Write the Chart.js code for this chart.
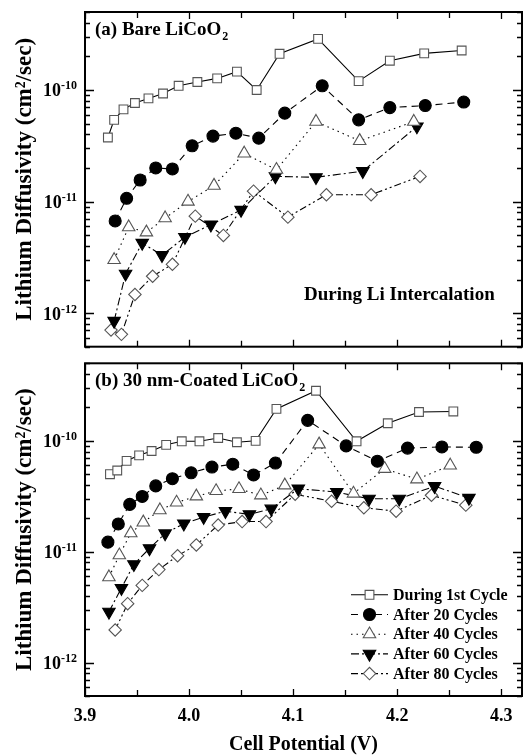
<!DOCTYPE html>
<html>
<head>
<meta charset="utf-8">
<script src="https://cdn.jsdelivr.net/npm/chart.js"></script>
<style>
  html, body { margin: 0; padding: 0; background: #fff; }
  #wrap { position: relative; width: 532px; height: 755px; }
  canvas { position: absolute; left: 0; }
  #bare { top: 0; }
  #coated { top: 355px; }
</style>
</head>
<body>
<div id="wrap">
  <canvas id="bare" width="532" height="355"></canvas>
  <canvas id="coated" width="532" height="400"></canvas>
</div>
<script>
// legend names
const seriesNames = ['During 1st Cycle', 'After 20 Cycles', 'After 40 Cycles', 'After 60 Cycles', 'After 80 Cycles'];
// decades that get a label on the y axis
const yDecades = [-10, -11, -12];

// (a) bare LiCoO2 - potential (V) and diffusivity (cm2/sec)
const bare1V  = [3.922, 3.928, 3.937, 3.948, 3.961, 3.975, 3.990, 4.008, 4.027, 4.046, 4.065, 4.087, 4.124, 4.163, 4.193, 4.226, 4.262];
const bare1D  = [3.75e-11, 5.4e-11, 6.7e-11, 7.65e-11, 8.4e-11, 9.3e-11, 1.09e-10, 1.18e-10, 1.27e-10, 1.46e-10, 1.0e-10, 2.11e-10, 2.87e-10, 1.2e-10, 1.83e-10, 2.13e-10, 2.26e-10];
const bare20V = [3.929, 3.940, 3.953, 3.968, 3.984, 4.003, 4.023, 4.045, 4.067, 4.092, 4.128, 4.163, 4.193, 4.227, 4.264];
const bare20D = [6.7e-12, 1.07e-11, 1.56e-11, 2.0e-11, 1.96e-11, 3.16e-11, 3.86e-11, 4.1e-11, 3.7e-11, 6.2e-11, 1.09e-10, 5.4e-11, 6.95e-11, 7.25e-11, 7.8e-11];
const bare40V = [3.928, 3.942, 3.959, 3.977, 3.999, 4.024, 4.053, 4.084, 4.122, 4.164, 4.216];
const bare40D = [3.0e-12, 5.9e-12, 5.3e-12, 7.1e-12, 1.0e-11, 1.39e-11, 2.7e-11, 1.93e-11, 5.2e-11, 3.5e-11, 5.2e-11];
const bare60V = [3.928, 3.939, 3.955, 3.974, 3.996, 4.021, 4.050, 4.083, 4.122, 4.167, 4.219];
const bare60D = [8.5e-13, 2.25e-12, 4.25e-12, 3.3e-12, 4.8e-12, 6.2e-12, 8.4e-12, 1.68e-11, 1.65e-11, 1.87e-11, 4.7e-11];
const bare80V = [3.925, 3.935, 3.948, 3.965, 3.984, 4.006, 4.033, 4.062, 4.095, 4.132, 4.175, 4.222];
const bare80D = [7.05e-13, 6.45e-13, 1.47e-12, 2.14e-12, 2.74e-12, 7.4e-12, 4.97e-12, 1.24e-11, 7.25e-12, 1.15e-11, 1.15e-11, 1.68e-11];

// (b) 30 nm-coated LiCoO2
const coat1V  = [3.924, 3.931, 3.940, 3.952, 3.964, 3.978, 3.993, 4.010, 4.028, 4.046, 4.064, 4.084, 4.122, 4.161, 4.191, 4.221, 4.254];
const coat1D  = [5.0e-11, 5.4e-11, 6.6e-11, 7.4e-11, 8.1e-11, 9.2e-11, 9.9e-11, 9.9e-11, 1.06e-10, 9.7e-11, 1.0e-10, 1.94e-10, 2.83e-10, 9.9e-11, 1.44e-10, 1.82e-10, 1.84e-10];
const coat20V = [3.922, 3.932, 3.943, 3.955, 3.968, 3.984, 4.002, 4.022, 4.042, 4.062, 4.083, 4.114, 4.151, 4.181, 4.210, 4.243, 4.276];
const coat20D = [1.22e-11, 1.78e-11, 2.67e-11, 3.15e-11, 3.92e-11, 4.55e-11, 5.15e-11, 5.8e-11, 6.15e-11, 4.92e-11, 6.3e-11, 1.53e-10, 9.0e-11, 6.55e-11, 8.6e-11, 8.8e-11, 8.75e-11];
const coat40V = [3.923, 3.933, 3.944, 3.956, 3.972, 3.988, 4.007, 4.026, 4.048, 4.069, 4.092, 4.125, 4.158, 4.188, 4.219, 4.251];
const coat40D = [5.9e-12, 9.3e-12, 1.47e-11, 1.84e-11, 2.37e-11, 2.78e-11, 3.16e-11, 3.53e-11, 3.68e-11, 3.23e-11, 3.97e-11, 9.3e-11, 3.35e-11, 5.6e-11, 4.5e-11, 6.0e-11];
const coat60V = [3.923, 3.935, 3.947, 3.962, 3.977, 3.995, 4.014, 4.035, 4.058, 4.079, 4.105, 4.142, 4.173, 4.202, 4.236, 4.269];
const coat60D = [2.87e-12, 4.7e-12, 7.7e-12, 1.07e-11, 1.46e-11, 1.79e-11, 2.05e-11, 2.32e-11, 2.17e-11, 2.44e-11, 3.7e-11, 3.45e-11, 3.0e-11, 3.0e-11, 3.9e-11, 3.05e-11];
const coat80V = [3.929, 3.941, 3.955, 3.971, 3.989, 4.007, 4.028, 4.051, 4.074, 4.102, 4.137, 4.168, 4.199, 4.233, 4.266];
const coat80D = [1.97e-12, 3.4e-12, 4.97e-12, 6.9e-12, 9.2e-12, 1.15e-11, 1.74e-11, 1.87e-11, 1.87e-11, 3.3e-11, 2.85e-11, 2.49e-11, 2.32e-11, 3.23e-11, 2.63e-11];

const SERIF = '"Liberation Serif", "Times New Roman", serif';

// line / marker look for each series
const looks = [
  { dash: [], style: 'rect', radius: 6.2, fill: '#fff', edge: '#555' },
  { dash: [7, 5], style: 'circle', radius: 6, fill: '#000', edge: '#000' },
  { dash: [1.5, 4], style: 'triangle', radius: 7.2, fill: '#fff', edge: '#555', rot: 0 },
  { dash: [8, 3, 2, 3], style: 'triangle', radius: 7.2, fill: '#000', edge: '#000', rot: 180 },
  { dash: [7, 3, 2, 3, 2, 3], style: 'rectRot', radius: 6.2, fill: '#fff', edge: '#555' }
];

function buildSets(vs, ds) {
  return vs.map((v, i) => ({
    label: seriesNames[i],
    data: v.map((x, j) => ({ x: x, y: ds[i][j] })),
    borderColor: '#000',
    borderWidth: 1.1,
    borderDash: looks[i].dash,
    pointStyle: looks[i].style,
    pointRotation: looks[i].rot || 0,
    pointRadius: looks[i].radius,
    pointBackgroundColor: looks[i].fill,
    pointBorderColor: looks[i].edge,
    pointBorderWidth: 1.1,
    fill: false,
    tension: 0
  }));
}

// frame, inward ticks, y labels, panel text and legend
const panelPlugin = {
  id: 'panel',
  afterDraw(chart, args, o) {
    const ctx = chart.ctx;
    const a = chart.chartArea;
    const xs = chart.scales.x, ys = chart.scales.y;
    ctx.save();
    ctx.strokeStyle = '#000';
    ctx.lineWidth = 1.3;
    ctx.setLineDash([]);
    ctx.beginPath();
    for (let d = -13; d <= -10; d++) {
      for (let m = 1; m <= 9; m++) {
        const v = m * Math.pow(10, d);
        if (v < ys.min * 0.999 || v > ys.max * 1.001) continue;
        const py = Math.round(ys.getPixelForValue(v)) + 0.5;
        const len = m === 1 ? 9 : 5;
        ctx.moveTo(a.left, py); ctx.lineTo(a.left + len, py);
        ctx.moveTo(a.right, py); ctx.lineTo(a.right - len, py);
      }
    }
    for (let k = 0; k <= 8; k++) {
      const v = 3.9 + k * 0.05;
      const px = Math.round(xs.getPixelForValue(v)) + 0.5;
      const len = k % 2 === 0 ? 7 : 6;
      ctx.moveTo(px, a.bottom); ctx.lineTo(px, a.bottom - len);
      ctx.moveTo(px, a.top); ctx.lineTo(px, a.top + len);
    }
    ctx.stroke();
    ctx.lineWidth = 2;
    ctx.strokeRect(a.left, a.top, a.right - a.left, a.bottom - a.top);

    // y labels 10^n with a raised exponent
    ctx.fillStyle = '#000';
    ctx.textBaseline = 'alphabetic';
    ctx.textAlign = 'left';
    yDecades.forEach(d => {
      const py = ys.getPixelForValue(Math.pow(10, d));
      const exp = String(d);
      ctx.font = 'bold 12px ' + SERIF;
      const ew = ctx.measureText(exp).width;
      ctx.font = 'bold 18px ' + SERIF;
      const bw = ctx.measureText('10').width;
      const x0 = a.left - 8 - ew - bw;
      ctx.fillText('10', x0, py + 6.5);
      ctx.font = 'bold 12px ' + SERIF;
      ctx.fillText(exp, x0 + bw, py - 0.5);
    });

    // panel title with subscript
    ctx.font = 'bold 19px ' + SERIF;
    const tx = a.left + 10, ty = a.top + 23;
    ctx.fillText(o.label, tx, ty);
    const w = ctx.measureText(o.label).width;
    ctx.font = 'bold 12px ' + SERIF;
    ctx.fillText('2', tx + w + 1, ty + 5);

    if (o.note) {
      ctx.font = 'bold 19px ' + SERIF;
      ctx.fillText(o.note, a.left + 219, a.top + 288);
    }

    if (o.legend) {
      const lx0 = a.right - 171, lx1 = a.right - 134, mx = (lx0 + lx1) / 2;
      chart.data.datasets.forEach((ds, i) => {
        const y = a.top + 231.5 + i * 19.7;
        ctx.lineWidth = 1.1;
        ctx.strokeStyle = '#000';
        ctx.setLineDash(looks[i].dash);
        ctx.beginPath();
        ctx.moveTo(lx0, y); ctx.lineTo(lx1, y);
        ctx.stroke();
        ctx.setLineDash([]);
        ctx.fillStyle = looks[i].fill;
        ctx.strokeStyle = looks[i].edge;
        Chart.helpers.drawPoint(ctx, {
          pointStyle: looks[i].style, radius: looks[i].radius, rotation: looks[i].rot || 0, borderWidth: 1.1
        }, mx, y);
        ctx.fillStyle = '#000';
        ctx.font = 'bold 16px ' + SERIF;
        ctx.textBaseline = 'middle';
        ctx.fillText(ds.label, lx1 + 5, y + 1);
        ctx.textBaseline = 'alphabetic';
      });
    }
    ctx.restore();
  }
};

function makeChart(id, vs, ds, cfg) {
  return new Chart(document.getElementById(id), {
    type: 'line',
    data: { datasets: buildSets(vs, ds) },
    options: {
      responsive: false,
      animation: false,
      devicePixelRatio: 1,
      layout: { padding: { top: cfg.top, right: 10, bottom: cfg.bottom, left: 0 } },
      plugins: {
        legend: { display: false },
        tooltip: { enabled: false },
        panel: { label: cfg.label, note: cfg.note, legend: cfg.legend }
      },
      scales: {
        x: {
          type: 'linear', min: 3.9, max: 4.32,
          grid: { display: false, drawTicks: false },
          border: { display: false },
          ticks: {
            display: cfg.xLabels, stepSize: 0.1, includeBounds: false, autoSkip: false, maxRotation: 0,
            padding: 10, color: '#000', font: { family: SERIF, size: 18, weight: 'bold' },
            callback: v => Number(v).toFixed(1)
          },
          title: {
            display: cfg.xLabels, text: 'Cell Potential (V)', color: '#000', padding: 0,
            font: { family: SERIF, size: 20, weight: 'bold', lineHeight: 1 }
          },
          afterFit: s => { s.height = cfg.xHeight; }
        },
        y: {
          type: 'logarithmic', min: 5e-13, max: 5e-10,
          grid: { display: false, drawTicks: false },
          border: { display: false },
          ticks: { display: false },
          title: {
            display: true, text: 'Lithium Diffusivity (cm\u00B2/sec)', color: '#000',
            padding: { top: 14, bottom: 0 },
            font: { family: SERIF, size: 23, weight: 'bold', lineHeight: 1 }
          },
          afterFit: s => { s.width = 85; }
        }
      }
    },
    plugins: [panelPlugin]
  });
}

makeChart('bare', [bare1V, bare20V, bare40V, bare60V, bare80V], [bare1D, bare20D, bare40D, bare60D, bare80D],
  { top: 12, bottom: 8, xHeight: 0, xLabels: false, label: '(a) Bare LiCoO', note: 'During Li Intercalation', legend: false });
makeChart('coated', [coat1V, coat20V, coat40V, coat60V, coat80V], [coat1D, coat20D, coat40D, coat60D, coat80D],
  { top: 6, bottom: 0, xHeight: 59, xLabels: true, label: '(b) 30 nm-Coated LiCoO', note: null, legend: true });
</script>
</body>
</html>
